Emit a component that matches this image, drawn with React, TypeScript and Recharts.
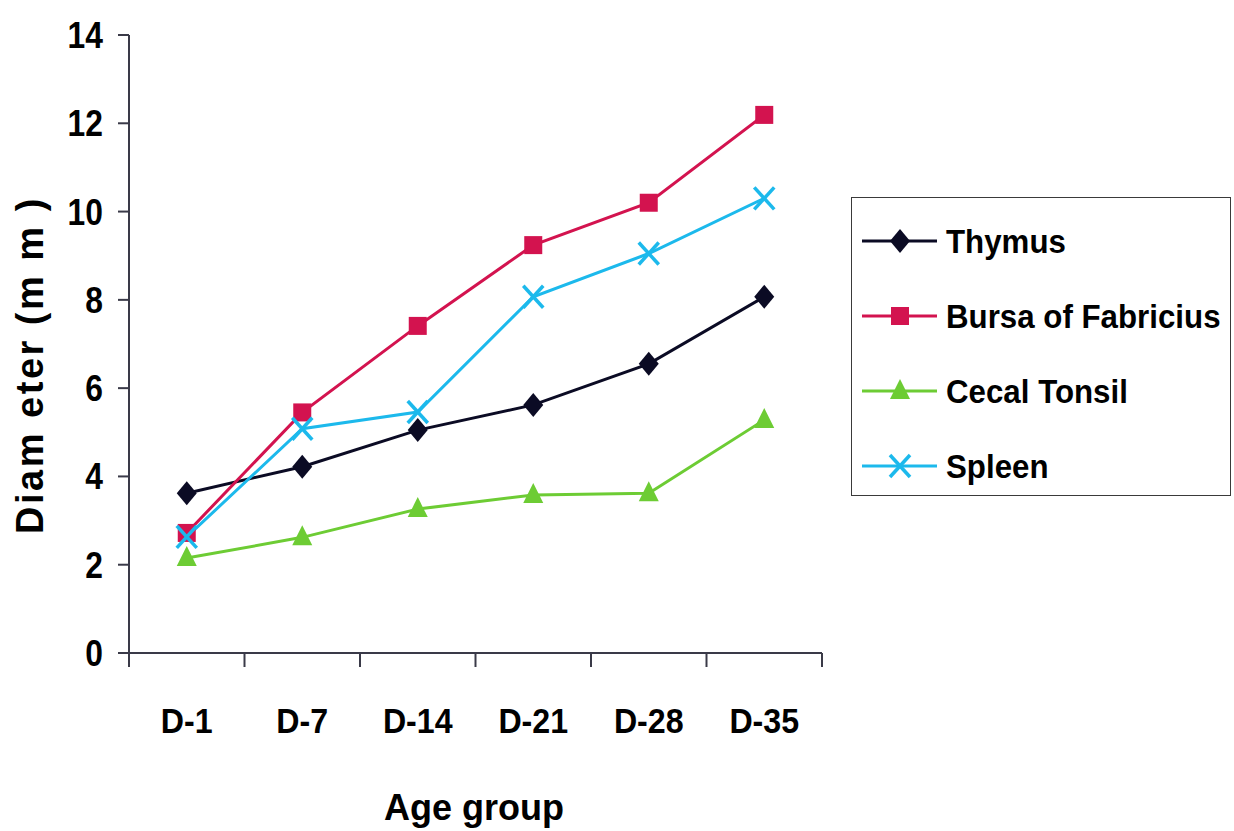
import { LineChart, Line, XAxis, YAxis } from 'recharts';

const ageGroups = ['D-1', 'D-7', 'D-14', 'D-21', 'D-28', 'D-35'];
const thymus = [3.62, 4.22, 5.05, 5.62, 6.55, 8.07];
const bursa = [2.72, 5.45, 7.41, 9.24, 10.2, 12.19];
const cecalTonsil = [2.15, 2.62, 3.26, 3.58, 3.62, 5.28];
const spleen = [2.63, 5.08, 5.46, 8.07, 9.05, 10.3];
const yTicks = [0, 2, 4, 6, 8, 10, 12, 14];

const data = ageGroups.map((age, i) => ({
  age,
  thymus: thymus[i],
  bursa: bursa[i],
  cecal: cecalTonsil[i],
  spleen: spleen[i],
}));

const FONT = "'Liberation Sans', Arial, sans-serif";
const AXIS = '#3a3a48';

const W = 1234;
const H = 831;
const margin = { top: 35, right: 412, left: 49, bottom: 78 };
const yAxisWidth = 80;
const plotWidth = W - margin.left - margin.right - yAxisWidth;
const halfStep = plotWidth / ageGroups.length / 2;

type Shape = 'diamond' | 'square' | 'triangle' | 'cross';

const series: { key: string; name: string; color: string; shape: Shape }[] = [
  { key: 'thymus', name: 'Thymus', color: '#0b0b24', shape: 'diamond' },
  { key: 'bursa', name: 'Bursa of Fabricius', color: '#d3134f', shape: 'square' },
  { key: 'cecal', name: 'Cecal Tonsil', color: '#6dcc34', shape: 'triangle' },
  { key: 'spleen', name: 'Spleen', color: '#1cb9ec', shape: 'cross' },
];

// bold text squeezed horizontally to look like Arial Narrow
const NarrowText = ({
  x,
  y,
  text,
  size,
  sx = 0.86,
  anchor = 'middle',
  angle = 0,
  spacing = 0,
}: {
  x: number;
  y: number;
  text: string;
  size: number;
  sx?: number;
  anchor?: 'start' | 'middle' | 'end';
  angle?: number;
  spacing?: number;
}) => (
  <text
    transform={`translate(${x},${y}) rotate(${angle}) scale(${sx},1)`}
    textAnchor={anchor}
    fontFamily={FONT}
    fontWeight={700}
    fontSize={size}
    letterSpacing={spacing}
    fill="#000"
  >
    {text}
  </text>
);

const Marker = ({ cx, cy, shape, color }: { cx: number; cy: number; shape: Shape; color: string }) => {
  if (cx == null || cy == null) return <g />;
  if (shape === 'diamond')
    return <polygon points={`${cx},${cy - 12} ${cx + 10},${cy} ${cx},${cy + 12} ${cx - 10},${cy}`} fill={color} />;
  if (shape === 'square') return <rect x={cx - 9} y={cy - 9} width={18} height={18} fill={color} />;
  if (shape === 'triangle')
    return <polygon points={`${cx},${cy - 12} ${cx + 10},${cy + 8} ${cx - 10},${cy + 8}`} fill={color} />;
  return (
    <g stroke={color} strokeWidth={3.5}>
      <line x1={cx - 10} y1={cy - 11} x2={cx + 10} y2={cy + 11} />
      <line x1={cx - 10} y1={cy + 11} x2={cx + 10} y2={cy - 11} />
    </g>
  );
};

// category label plus Excel-style tick marks between categories
const XTick = (p: any) => {
  const last = p.index === ageGroups.length - 1;
  return (
    <g>
      <line x1={p.x - halfStep} y1={p.y} x2={p.x - halfStep} y2={p.y + 14} stroke={AXIS} strokeWidth={2} />
      {last && <line x1={p.x + halfStep} y1={p.y} x2={p.x + halfStep} y2={p.y + 14} stroke={AXIS} strokeWidth={2} />}
      <NarrowText x={p.x} y={p.y + 80} text={p.payload.value} size={35} sx={0.92} />
    </g>
  );
};

const LegendBox = () => (
  <div
    style={{
      position: 'absolute',
      left: 851,
      top: 197,
      width: 378,
      height: 297,
      border: '1.5px solid #3a3a3a',
      background: '#fff',
    }}
  >
    {series.map((s, i) => (
      <div key={s.key} style={{ position: 'absolute', left: 10, top: 43 + i * 75 - 20, height: 40 }}>
        <svg width={370} height={40}>
          <line x1={0} y1={20} x2={75} y2={20} stroke={s.color} strokeWidth={3} />
          <Marker cx={38} cy={20} shape={s.shape} color={s.color} />
          <NarrowText x={84} y={32} text={s.name} size={34} sx={0.92} anchor="start" />
        </svg>
      </div>
    ))}
  </div>
);

export default function App() {
  return (
    <div style={{ position: 'fixed', left: 0, top: 0, width: W, height: H, background: '#fff' }}>
      <LineChart width={W} height={H} data={data} margin={margin}>
        <XAxis
          dataKey="age"
          height={100}
          padding={{ left: halfStep, right: halfStep }}
          interval={0}
          axisLine={{ stroke: AXIS, strokeWidth: 2 }}
          tickLine={false}
          tickSize={0}
          tickMargin={0}
          tick={(p: any) => <XTick key={p.index} {...p} />}
          label={{
            content: () => <NarrowText x={474} y={820} text="Age group" size={36} sx={1} />,
          }}
        />
        <YAxis
          width={yAxisWidth}
          domain={[0, 14]}
          ticks={yTicks}
          interval={0}
          tickSize={11}
          tickMargin={0}
          axisLine={{ stroke: AXIS, strokeWidth: 2 }}
          tickLine={{ stroke: AXIS, strokeWidth: 2 }}
          tick={(p: any) => (
            <NarrowText x={103} y={p.y + 13} text={String(p.payload.value)} size={37} sx={0.86} anchor="end" />
          )}
          label={{
            content: () => (
              <NarrowText x={43} y={365} text="Diam eter (m m )" size={38} sx={1} angle={-90} spacing={2.5} />
            ),
          }}
        />
        {series.map((s) => (
          <Line
            key={s.key}
            dataKey={s.key}
            name={s.name}
            stroke={s.color}
            strokeWidth={3}
            isAnimationActive={false}
            dot={(p: any) => <Marker key={`${s.key}-${p.index}`} cx={p.cx} cy={p.cy} shape={s.shape} color={s.color} />}
            activeDot={false}
          />
        ))}
      </LineChart>
      <LegendBox />
    </div>
  );
}
